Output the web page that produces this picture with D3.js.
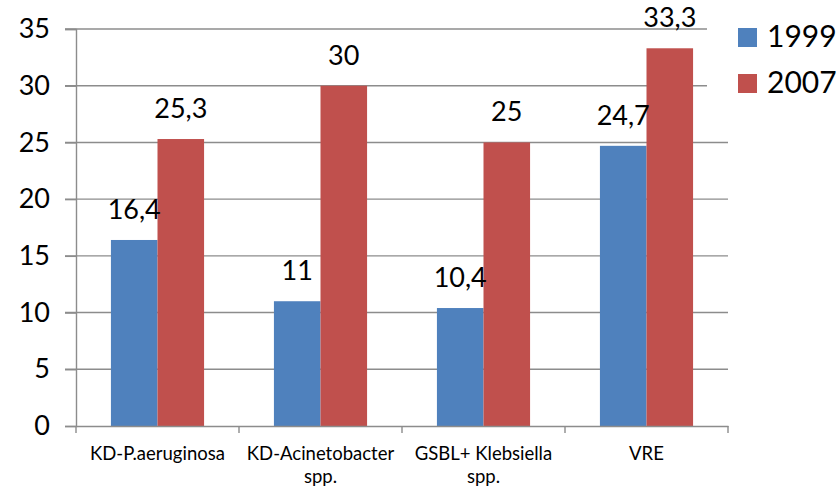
<!DOCTYPE html>
<html>
<head>
<meta charset="utf-8">
<script src="https://cdn.jsdelivr.net/npm/d3@7"></script>
<style>
  body { margin: 0; background: #fff; }
  svg { display: block; font-family: Lato, "Open Sans", sans-serif; }
</style>
</head>
<body>
<div id="chart"></div>
<script>
// data
const categories = ["KD-P.aeruginosa", "KD-Acinetobacter spp.", "GSBL+ Klebsiella spp.", "VRE"];
const seriesNames = ["1999", "2007"];
const values1999 = [16.4, 11, 10.4, 24.7];
const values2007 = [25.3, 30, 25, 33.3];
const yTicks = [0, 5, 10, 15, 20, 25, 30, 35];
// category labels broken onto lines like in the original
const categoryLines = [["KD-P.aeruginosa"], ["KD-Acinetobacter", "spp."], ["GSBL+ Klebsiella", "spp."], ["VRE"]];

const colors = {"1999": "#4f81bd", "2007": "#c0504d"};

const width = 838, height = 490;
const margin = {top: 29, right: 110, bottom: 64, left: 76};

const rows = categories.map((c, i) => ({
  category: c,
  lines: categoryLines[i],
  values: [{key: "1999", value: values1999[i]}, {key: "2007", value: values2007[i]}]
}));

const svg = d3.select("#chart").append("svg")
  .attr("width", width)
  .attr("height", height);

const x0 = d3.scaleBand()
  .domain(categories)
  .range([margin.left, width - margin.right])
  .padding(0);

const x1 = d3.scaleBand()
  .domain(seriesNames)
  .range([0, x0.bandwidth()])
  .paddingInner(0)
  .paddingOuter(0.75);

const y = d3.scaleLinear()
  .domain([0, 35])
  .range([height - margin.bottom, margin.top]);

// gridlines (with the little tick stubs on the left)
svg.append("g")
  .selectAll("line")
  .data(yTicks.filter(d => d > 0))
  .join("line")
    .attr("x1", margin.left - 11)
    .attr("x2", width - margin.right)
    .attr("y1", d => y(d))
    .attr("y2", d => y(d))
    .attr("stroke", "#8c8c8c")
    .attr("stroke-width", 1.4);

// y axis
const yAxis = d3.axisLeft(y).tickValues(yTicks).tickSize(11).tickPadding(15);
svg.append("g")
  .attr("transform", `translate(${margin.left},0)`)
  .call(yAxis)
  .call(g => g.select(".domain").attr("stroke", "#8c8c8c").attr("stroke-width", 1.4))
  .call(g => g.selectAll(".tick line").attr("stroke", "#8c8c8c").attr("stroke-width", 1.4))
  .call(g => g.selectAll(".tick text")
    .attr("font-size", 27)
    .attr("font-family", "Lato, sans-serif")
    .attr("fill", "#000"));

// bars
const groups = svg.append("g")
  .selectAll("g")
  .data(rows)
  .join("g")
    .attr("transform", d => `translate(${x0(d.category)},0)`);

groups.selectAll("rect")
  .data(d => d.values)
  .join("rect")
    .attr("x", d => x1(d.key))
    .attr("y", d => y(d.value))
    .attr("width", x1.bandwidth())
    .attr("height", d => y(0) - y(d.value))
    .attr("fill", d => colors[d.key]);

// value labels
groups.selectAll("text")
  .data(d => d.values)
  .join("text")
    .attr("x", d => x1(d.key) + x1.bandwidth() / 2)
    .attr("y", d => y(d.value) - 21)
    .attr("text-anchor", "middle")
    .attr("font-size", 27)
    .attr("fill", "#000")
    .text(d => String(d.value).replace(".", ","));

// x axis
const xAxis = d3.axisBottom(x0).tickSize(0).tickFormat("");
svg.append("g")
  .attr("transform", `translate(0,${y(0)})`)
  .call(xAxis)
  .call(g => g.select(".domain").attr("stroke", "#8c8c8c").attr("stroke-width", 1.4));

// x tick marks at band edges
const edges = categories.map(c => x0(c)).concat([x0.range()[1]]);
svg.append("g")
  .selectAll("line")
  .data(edges)
  .join("line")
    .attr("x1", d => d).attr("x2", d => d)
    .attr("y1", y(0)).attr("y2", y(0) + 7)
    .attr("stroke", "#8c8c8c")
    .attr("stroke-width", 1.4);

// category labels
const catLabels = svg.append("g")
  .selectAll("text")
  .data(rows)
  .join("text")
    .attr("x", d => x0(d.category) + x0.bandwidth() / 2)
    .attr("y", y(0) + 34)
    .attr("text-anchor", "middle")
    .attr("font-size", 18.5)
    .attr("fill", "#000");

catLabels.selectAll("tspan")
  .data(d => d.lines)
  .join("tspan")
    .attr("x", function() { return this.parentNode.getAttribute("x"); })
    .attr("dy", (d, i) => i === 0 ? 0 : 23)
    .text(d => d);

// legend
const legend = svg.append("g");
legend.append("rect")
  .attr("x", 707).attr("y", 0)
  .attr("width", width - 707).attr("height", 105)
  .attr("fill", "#fff");

const items = legend.selectAll("g")
  .data(seriesNames)
  .join("g")
    .attr("transform", (d, i) => `translate(738,${28 + i * 46})`);

items.append("rect")
  .attr("width", 19).attr("height", 19)
  .attr("fill", d => colors[d]);

items.append("text")
  .attr("x", 29)
  .attr("y", 19)
  .attr("font-size", 30)
  .attr("fill", "#000")
  .text(d => d);
</script>
</body>
</html>
